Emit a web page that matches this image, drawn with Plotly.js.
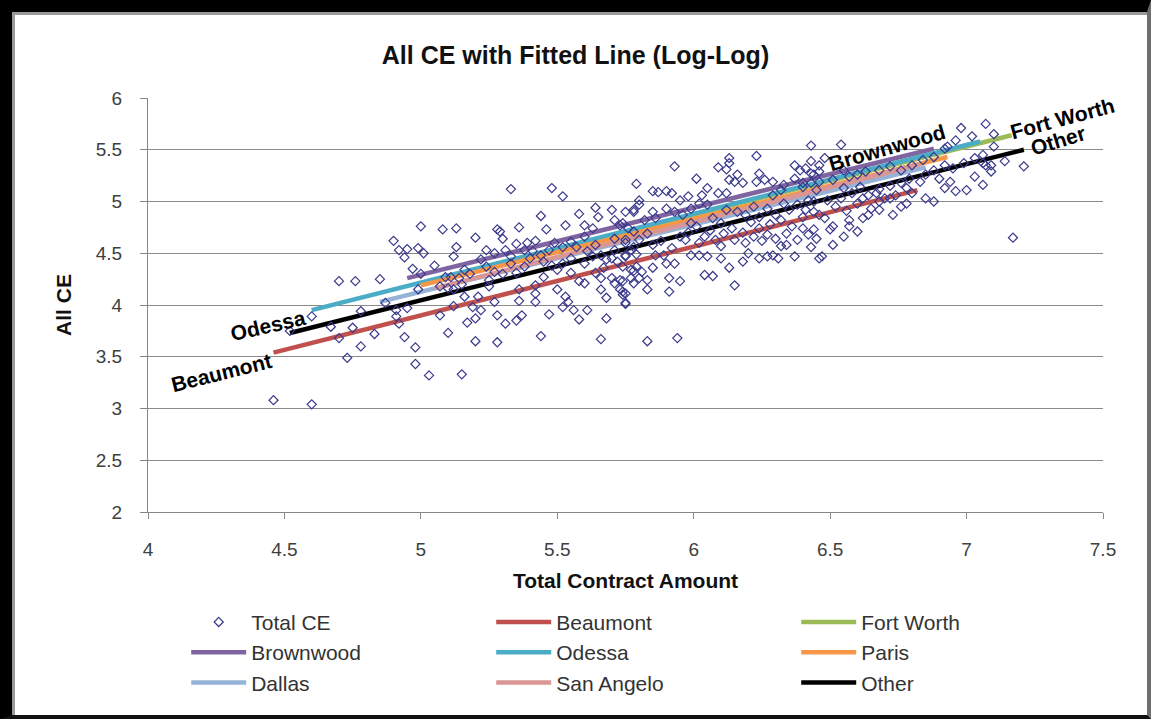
<!DOCTYPE html>
<html>
<head>
<meta charset="utf-8">
<script src="https://cdn.plot.ly/plotly-3.0.1.min.js"></script>
<style>
  html, body { margin: 0; padding: 0; background: #fff; }
  #wrap { position: relative; width: 1151px; height: 719px; overflow: hidden; }
  #chart { width: 1151px; height: 719px; }
  #frame { position: absolute; left: 0; top: 0; width: 1151px; height: 719px; box-sizing: border-box;
           border-left: 12px solid #000; border-top: 12px solid #000; border-right: 4px solid #6e6e6e; border-bottom: 4px solid #111;
           box-shadow: inset 3px 3px 0 #9a9a9a; pointer-events: none; }
</style>
</head>
<body>
<div id="wrap"><div id="chart"></div><div id="frame"></div></div>
<script>
// ---- Scatter data (Total CE) ----
const totalX = [
5.00,5.08,5.13,4.90,4.92,4.95,4.99,5.01,4.94,4.97,5.00,4.70,4.76,4.85,4.99,4.60,4.78,4.87,4.91,4.95,4.91,4.52,4.67,4.75,4.70,4.83,4.92,4.94,4.78,4.98,4.73,4.98,5.03,4.46,4.60,5.07,5.10,5.12,5.13,5.12,5.15,
5.33,5.48,5.52,5.79,5.20,5.28,5.29,5.36,5.44,5.46,5.53,5.58,5.64,5.65,5.70,5.71,5.73,5.78,5.80,5.30,5.35,5.39,5.42,5.24,5.27,5.31,5.38,5.41,5.44,5.47,5.49,5.52,5.55,5.57,5.61,5.64,5.66,5.68,5.71,5.72,5.75,5.77,
5.09,5.11,5.14,5.16,5.07,5.10,5.12,5.16,5.21,5.19,5.22,5.17,5.20,5.27,5.27,5.30,5.24,5.33,5.35,5.38,5.36,5.36,5.28,5.31,5.35,5.37,5.20,5.28,5.44,5.42,5.42,5.42,5.47,5.45,5.50,5.50,5.53,5.52,5.54,5.56,5.58,
5.55,5.58,5.60,5.61,5.66,5.68,5.68,5.66,5.64,5.66,5.70,5.71,5.74,5.73,5.74,5.75,5.78,5.77,5.79,5.71,5.75,5.60,5.63,5.60,5.25,5.25,
6.23,6.13,6.13,6.12,6.09,5.93,6.16,6.01,5.85,5.87,5.90,5.92,6.05,6.13,6.15,6.18,6.24,6.23,6.26,6.29,6.33,6.37,6.39,6.41,6.43,6.46,6.37,6.40,6.09,6.12,6.05,6.02,5.80,5.78,5.75,5.85,5.82,5.86,5.90,5.93,5.96,5.99,
5.74,5.76,5.75,5.78,5.80,5.83,5.78,5.75,5.79,5.74,5.78,5.81,5.73,5.77,5.74,5.75,5.75,5.80,5.83,5.85,5.83,5.91,5.95,5.91,5.90,5.93,5.83,5.94,5.86,5.89,5.99,6.04,6.07,6.15,6.13,6.18,6.02,6.05,6.10,6.20,6.24,
6.27,6.29,6.31,6.37,6.32,6.34,6.38,6.43,6.44,6.40,6.42,6.24,6.27,6.30,6.34,6.15,6.19,6.22,6.04,6.08,6.11,5.97,6.01,5.99,6.07,6.10,6.12,6.16,6.19,6.22,6.24,6.27,6.30,6.33,6.35,6.38,6.41,6.44,6.46,6.29,6.32,
5.95,5.98,6.03,6.46,
7.07,7.10,6.98,7.02,6.96,6.93,6.92,6.54,6.48,6.43,6.46,6.44,6.55,6.57,6.60,6.63,6.68,6.72,6.76,6.80,6.84,6.88,6.88,6.92,6.95,6.99,7.03,7.07,7.09,6.90,6.94,6.96,7.00,7.03,7.06,6.92,6.88,6.85,6.78,6.74,
6.78,6.76,6.72,6.67,6.70,6.68,6.65,6.62,6.68,6.73,6.64,6.62,6.57,6.60,6.57,6.51,6.50,6.55,6.45,6.51,6.47,6.54,6.58,6.49,6.42,6.45,6.40,6.51,6.46,6.43,6.55,6.61,6.79,6.83,6.85,
7.10,7.06,7.09,7.14,7.21,7.17,7.06,6.43,
5.85,5.88,5.92,5.95,5.98,6.02,6.06,6.10,6.14,6.18,6.21,6.25,6.28,6.32,6.36,6.40,6.44,6.48,6.52,6.56,6.60,6.64,6.68,6.72,6.76,6.80,5.55,5.60,5.63,5.67,5.70,5.52,5.48,5.45,5.40,5.33,5.22,5.18,5.15,5.05
];
const totalY = [
4.76,4.73,4.74,4.62,4.53,4.54,4.55,4.50,4.46,4.35,4.30,4.23,4.23,4.25,4.15,3.89,3.94,4.02,3.95,3.97,3.89,3.75,3.79,3.78,3.68,3.72,3.82,3.69,3.60,3.59,3.49,3.43,3.32,3.08,3.04,3.90,3.73,3.99,4.56,4.47,3.33,
5.12,5.13,5.05,5.17,4.65,4.73,4.71,4.75,4.86,4.73,4.77,4.88,4.94,4.85,4.92,4.82,4.77,4.90,4.97,4.64,4.59,4.60,4.62,4.53,4.50,4.53,4.53,4.52,4.48,4.53,4.60,4.56,4.61,4.56,4.52,4.58,4.48,4.44,4.53,4.42,4.47,4.53,
4.27,4.27,4.26,4.34,4.18,4.16,4.15,4.08,4.08,3.98,3.95,3.83,3.87,4.03,4.32,4.30,4.37,4.40,4.31,4.37,4.15,4.04,3.90,3.82,3.85,3.90,3.65,3.64,3.70,4.19,4.11,4.03,3.91,4.27,4.34,4.15,4.08,3.98,4.03,3.95,3.86,
4.31,4.23,4.21,3.95,4.15,4.07,3.87,3.67,4.31,4.26,4.26,4.21,4.23,4.15,4.10,4.01,4.21,4.34,4.37,4.64,4.60,4.66,4.74,4.77,4.24,4.18,
5.44,5.42,5.37,5.31,5.33,5.34,5.26,5.22,5.10,5.09,5.10,5.08,5.13,5.21,5.19,5.18,5.27,5.19,5.21,5.19,5.16,5.35,5.30,5.32,5.27,5.35,5.22,5.18,5.08,5.08,4.97,4.98,5.01,4.92,4.90,4.90,4.82,4.84,4.93,4.90,4.87,4.93,
4.79,4.74,4.63,4.71,4.63,4.69,4.56,4.48,4.49,4.37,4.33,4.32,4.24,4.26,4.13,4.11,4.02,4.26,4.24,4.36,4.15,4.26,4.23,4.13,4.40,4.40,3.65,3.68,4.48,4.48,4.48,4.29,4.28,4.19,4.36,4.42,4.48,4.47,4.45,4.50,4.45,
4.47,4.48,4.45,4.47,4.57,4.58,4.63,4.56,4.73,4.74,4.68,4.74,4.68,4.64,4.69,4.63,4.60,4.66,4.66,4.63,4.69,4.63,4.76,4.79,4.84,4.79,4.92,4.90,4.87,4.95,4.85,4.93,4.87,4.98,4.92,4.97,4.92,5.00,4.87,5.06,5.11,
5.01,5.05,5.06,4.45,
5.75,5.65,5.71,5.63,5.59,5.53,5.51,5.55,5.42,5.39,5.29,5.26,5.30,5.24,5.26,5.29,5.30,5.34,5.30,5.35,5.40,5.43,5.30,5.35,5.32,5.37,5.42,5.35,5.29,5.22,5.19,5.10,5.11,5.24,5.16,5.13,5.00,5.03,5.13,5.06,
4.98,4.95,5.03,5.08,5.03,5.00,4.93,5.03,4.92,4.87,4.87,4.84,4.82,4.71,4.76,4.76,4.73,4.66,4.64,4.58,4.47,5.03,5.08,5.01,5.01,5.11,5.14,5.21,5.19,5.18,5.13,5.14,5.22,5.19,5.26,
5.53,5.45,5.35,5.39,5.34,4.65,5.37,5.54,
4.58,4.62,4.55,4.66,4.70,4.60,4.72,4.57,4.74,4.70,4.80,4.62,4.78,4.82,4.76,4.85,4.90,4.84,4.95,4.91,4.98,5.06,5.12,5.15,5.18,5.08,4.45,4.40,4.47,4.36,4.45,4.40,4.38,4.42,4.45,4.47,4.44,4.30,4.20,4.38
];

// ---- Fitted lines (end points) ----
const beaumontX = [4.46, 6.82],  beaumontY = [3.54, 5.11];
const fortWorthX = [5.30, 7.165], fortWorthY = [4.41, 5.64];
const brownwoodX = [4.95, 6.88], brownwoodY = [4.26, 5.51];
const odessaX = [4.60, 7.05],    odessaY = [3.95, 5.58];
const parisX = [5.00, 6.93],     parisY = [4.19, 5.43];
const dallasX = [4.85, 6.85],    dallasY = [4.03, 5.33];
const sanAngeloX = [5.05, 6.83], sanAngeloY = [4.16, 5.36];
const otherX = [4.52, 7.21],     otherY = [3.73, 5.50];

const seriesNames = ["Beaumont","Fort Worth","Brownwood","Odessa","Paris","Dallas","San Angelo","Other"];
const seriesX = [beaumontX, fortWorthX, brownwoodX, odessaX, parisX, dallasX, sanAngeloX, otherX];
const seriesY = [beaumontY, fortWorthY, brownwoodY, odessaY, parisY, dallasY, sanAngeloY, otherY];
const seriesColors = ["#C0504D","#9BBB59","#8064A2","#4BACC6","#F79646","#95B3D7","#D99694","#000000"];

// line labels
const labelText = ["Odessa","Beaumont","Brownwood","Fort Worth","Other"];
const labelX = [4.44, 4.27, 6.71, 7.35, 7.335];
const labelY = [3.80, 3.35, 5.52, 5.80, 5.59];
const labelAngle = [-13, -14, -16, -15, -17];

const FONT = "'Liberation Sans', Arial, sans-serif";

const traces = [];
seriesNames.forEach((n, i) => {
  traces.push({
    type: "scatter", mode: "lines", name: n,
    x: seriesX[i], y: seriesY[i],
    line: {color: seriesColors[i], width: 4.5},
    legendrank: i + 2, hoverinfo: "skip"
  });
});
traces.push({
  type: "scatter", mode: "markers", name: "Total CE",
  x: totalX, y: totalY,
  marker: {symbol: "diamond-open", size: 7, color: "#3a3a8c", line: {width: 1.2, color: "#3a3a8c"}},
  legendrank: 1
});

const annotations = labelText.map((t, i) => ({
  x: labelX[i], y: labelY[i], xref: "x", yref: "y", text: "<b>" + t + "</b>",
  showarrow: false, textangle: labelAngle[i],
  font: {family: FONT, size: 21, color: "#000"}
}));

const layout = {
  width: 1151, height: 719,
  margin: {l: 148, r: 48, t: 98, b: 207, pad: 0},
  paper_bgcolor: "#fff", plot_bgcolor: "#fff",
  font: {family: FONT, color: "#404040"},
  title: {text: "<b>All CE with Fitted Line (Log-Log)</b>", font: {family: FONT, size: 25, color: "#111"},
          x: 0.5, xref: "container", y: 1 - 55/719, yref: "container", yanchor: "middle"},
  xaxis: {range: [4, 7.5], dtick: 0.5, tick0: 4, showgrid: false, zeroline: false,
          showline: true, linecolor: "#868686", linewidth: 1,
          ticks: "outside", ticklen: 6, tickcolor: "#868686",
          tickfont: {size: 19, color: "#404040"}, ticklabelstandoff: 14,
          title: {text: "<b>Total Contract Amount</b>", font: {size: 21, color: "#111"}, standoff: 14}},
  yaxis: {range: [2, 6], dtick: 0.5, tick0: 2, showgrid: true, gridcolor: "#8a8a8a", gridwidth: 1, zeroline: false,
          showline: true, linecolor: "#868686", linewidth: 1,
          ticks: "outside", ticklen: 7, tickcolor: "#868686",
          tickfont: {size: 19, color: "#404040"}, ticklabelstandoff: 14,
          title: {text: "<b>All CE</b>", font: {size: 21, color: "#111"}, standoff: 18}},
  showlegend: true,
  legend: {orientation: "h", x: 0.04, xanchor: "left", y: -0.217, yanchor: "top",
           entrywidth: 235, entrywidthmode: "pixels", itemwidth: 55,
           font: {size: 21, color: "#333"}, traceorder: "normal", tracegroupgap: 0},
  annotations: annotations
};

Plotly.newPlot("chart", traces, layout, {displayModeBar: false, staticPlot: true});
</script>
</body>
</html>
